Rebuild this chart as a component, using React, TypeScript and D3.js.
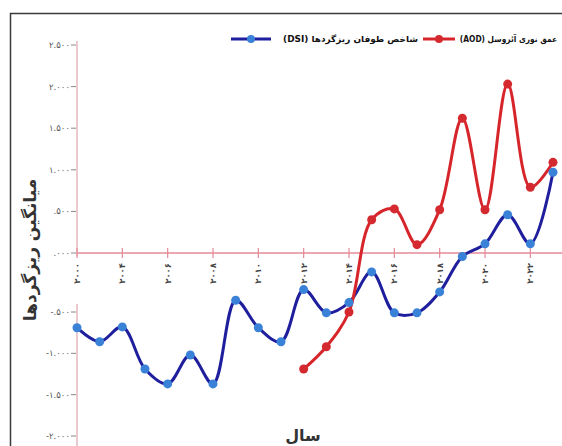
import React from "react";
import * as d3 from "d3";

const categories = [2000, 2003, 2004, 2005, 2006, 2007, 2008, 2009, 2010, 2011, 2012, 2013, 2014, 2015, 2016, 2017, 2018, 2019, 2020, 2021, 2022, 2023];
const tickLabels = ["۲۰۰۰", "۲۰۰۴", "۲۰۰۶", "۲۰۰۸", "۲۰۱۰", "۲۰۱۲", "۲۰۱۴", "۲۰۱۶", "۲۰۱۸", "۲۰۲۰", "۲۰۲۲"];
const dsiValues = [-0.69, -0.86, -0.68, -1.19, -1.37, -1.02, -1.37, -0.4, -0.69, -0.86, -0.31, -0.51, -0.42, -0.16, -0.51, -0.51, -0.33, -0.03, 0.11, 0.46, 0.11, 0.97];
const aodYears = [2012, 2013, 2014, 2015, 2016, 2017, 2018, 2019, 2020, 2021, 2022, 2023];
const aodValues = [-1.19, -0.92, -0.5, 0.4, 0.53, 0.1, 0.52, 1.62, 0.52, 2.03, 0.79, 1.09];
const yTicks = [2.5, 2.0, 1.5, 1.0, 0.5, 0, -0.5, -1.0, -1.5, -2.0];
const yTickLabels = ["۲.۵۰۰", "۲.۰۰۰", "۱.۵۰۰", "۱.۰۰۰", ".۵۰۰", ".۰۰۰", "-.۵۰۰", "-۱.۰۰۰", "-۱.۵۰۰", "-۲.۰۰۰"];
const seriesNames = ["شاخص طوفان ریزگردها (DSI)", "عمق نوری آئروسل (AOD)"];
const yTitle = "میانگین ریزگردها";
const xTitle = "سال";

const W = 562;
const H = 446;
const FONT = "'DejaVu Sans', sans-serif";

export default function App() {
  const x = d3.scalePoint<number>().domain(categories).range([77, 553]);
  const y = d3.scaleLinear().domain([-2, -0.5, 0, 2.5]).range([436, 312, 253, 45]);

  const line = d3
    .line<[number, number]>()
    .x((d) => x(d[0]) as number)
    .y((d) => y(d[1]))
    .curve(d3.curveCatmullRom.alpha(0.5));

  const dsi: [number, number][] = categories.map((c, i) => [c, dsiValues[i]]);
  const aod: [number, number][] = aodYears.map((c, i) => [c, aodValues[i]]);

  const tickCats = categories.filter((_, i) => i % 2 === 0);
  const y0 = y(0);

  const blueLine = "#1f1f9e";
  const blueMark = "#3a82d8";
  const redLine = "#d7262b";
  const redMark = "#d42a2f";

  return (
    <svg
      width={W}
      height={H}
      style={{ position: "absolute", left: 0, top: 0, background: "#fff" }}
    >
      <rect x={0} y={0} width={W} height={H} fill="#fff" />
      {/* frame */}
      <rect x={10.5} y={13.5} width={620} height={520} fill="none" stroke="#3a3a3a" strokeWidth={1.5} />

      {/* y axis line (two segments) */}
      <line x1={77} x2={77} y1={y(2.5) - 4} y2={y0 + 3} stroke="#e3b9bf" strokeWidth={1.5} />
      <line x1={77} x2={77} y1={y(-0.5) - 8} y2={H} stroke="#e3b9bf" strokeWidth={1.5} />

      {/* y ticks */}
      {yTicks.map((t, i) => (
        <g key={"yt" + i}>
          <line x1={71} x2={76} y1={y(t)} y2={y(t)} stroke="#888" strokeWidth={1} />
          <text
            x={70}
            y={y(t)}
            dy="0.35em"
            textAnchor="end"
            fontSize={8.5}
            fontFamily={FONT}
            fill="#555"
            direction="ltr"
          >
            {yTickLabels[i]}
          </text>
        </g>
      ))}

      {/* zero line */}
      <line x1={77} x2={W} y1={y0} y2={y0} stroke="#e48a98" strokeWidth={1.5} />
      {tickCats.map((c, i) => (
        <g key={"xt" + i}>
          <line x1={x(c)} x2={x(c)} y1={y0 - 5} y2={y0 + 5} stroke="#e48a98" strokeWidth={1.2} />
          <text
            transform={`translate(${(x(c) as number) + 3},${y0 + 10}) rotate(-90)`}
            textAnchor="end"
            fontSize={8.5}
            fontWeight="bold"
            fontFamily={FONT}
            fill="#444"
            direction="ltr"
          >
            {tickLabels[i]}
          </text>
        </g>
      ))}

      {/* series lines */}
      <path d={line(dsi) || ""} fill="none" stroke={blueLine} strokeWidth={3} />
      <path d={line(aod) || ""} fill="none" stroke={redLine} strokeWidth={3} />
      {dsi.map((d, i) => (
        <circle key={"b" + i} cx={x(d[0])} cy={y(d[1])} r={4.5} fill={blueMark} />
      ))}
      {aod.map((d, i) => (
        <circle key={"r" + i} cx={x(d[0])} cy={y(d[1])} r={4.5} fill={redMark} />
      ))}

      {/* legend */}
      <line x1={231} x2={271} y1={39} y2={39} stroke={blueLine} strokeWidth={3} />
      <circle cx={251} cy={39} r={4} fill={blueMark} />
      <text
        transform="translate(418,39) scale(1.05,1)"
        dy="0.35em"
        direction="rtl"
        textAnchor="start"
        fontSize={8.5}
        fontWeight="bold"
        fontFamily={FONT}
        fill="#111"
      >
        {seriesNames[0]}
      </text>
      <line x1={423} x2={455} y1={39} y2={39} stroke={redLine} strokeWidth={3} />
      <circle cx={439} cy={39} r={4} fill={redMark} />
      <text
        transform="translate(557,39) scale(0.88,1)"
        dy="0.35em"
        direction="rtl"
        textAnchor="start"
        fontSize={8.5}
        fontWeight="bold"
        fontFamily={FONT}
        fill="#111"
      >
        {seriesNames[1]}
      </text>

      {/* axis titles */}
      <text
        transform={`translate(36,250) rotate(-90)`}
        textAnchor="middle"
        direction="rtl"
        fontSize={17}
        fontWeight="bold"
        fontFamily={FONT}
        fill="#333"
      >
        {yTitle}
      </text>
      <text
        x={303}
        y={441}
        textAnchor="middle"
        direction="rtl"
        fontSize={16}
        fontWeight="bold"
        fontFamily={FONT}
        fill="#333"
      >
        {xTitle}
      </text>
    </svg>
  );
}
